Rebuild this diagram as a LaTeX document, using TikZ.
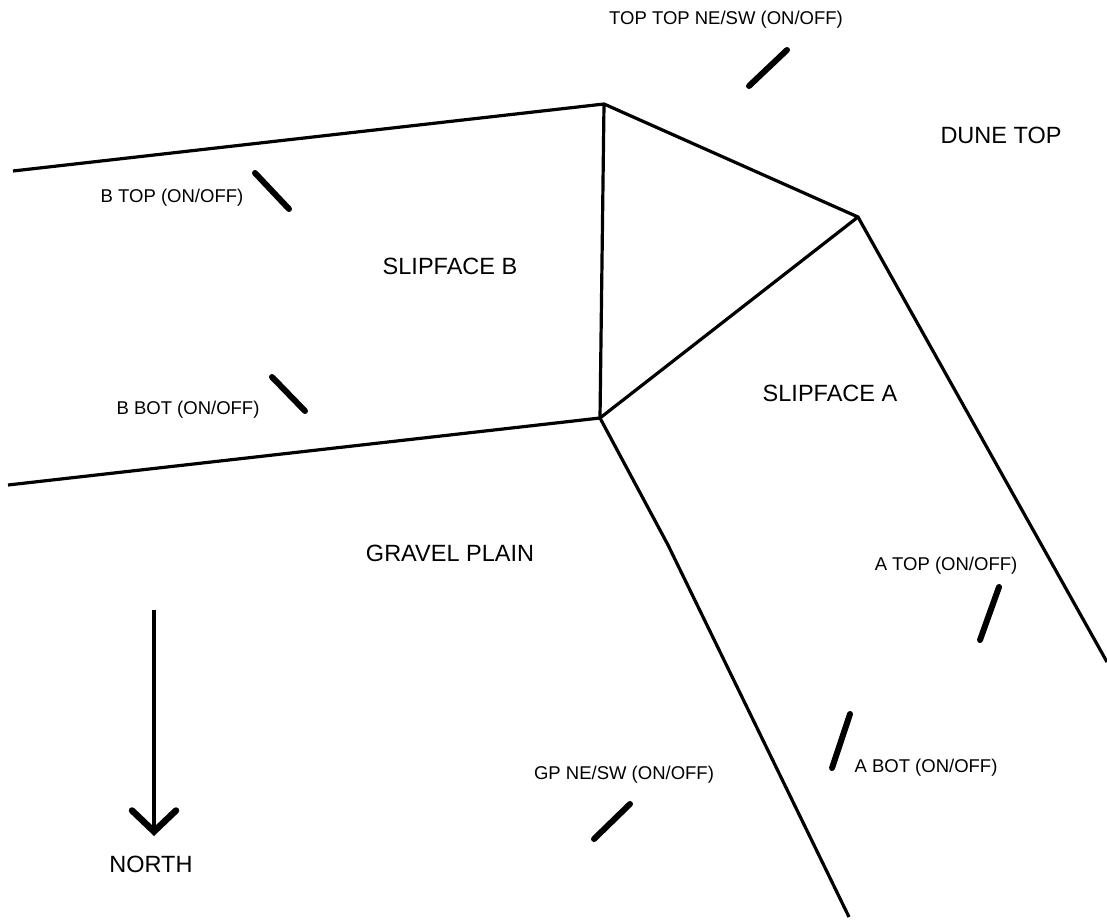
\documentclass[tikz,border=0pt]{standalone}
\usepackage{fontspec}
\setmainfont{Liberation Sans}
\usetikzlibrary{arrows.meta}
\tikzset{
  edge/.style={line width=3.2pt,line join=round},
  sensor/.style={line width=6pt,line cap=round},
  zone/.style={inner sep=0pt,font=\fontsize{23.5}{26}\selectfont},
  tag/.style={inner sep=0pt,font=\fontsize{18.5}{20}\selectfont}
}
\begin{document}
\begin{tikzpicture}[x=1pt,y=-1pt]
    \useasboundingbox (0,0) rectangle (1107,920);
    \coordinate (wt) at (13,171);
    \coordinate (wb) at (8,485);
    \coordinate (crest) at (604,104);
    \coordinate (brink) at (858,217);
    \coordinate (toe) at (600,418);
    \coordinate (bend) at (668,545);
    \coordinate (se) at (849,917);
    \coordinate (ee) at (1107,662);
    \draw[edge] (wt) -- (crest) -- (brink) -- (toe) -- (crest);
    \draw[edge] (wb) -- (toe) -- (bend) -- (se);
    \draw[edge] (brink) -- (ee);
    \node[zone] (dune) at (1001,135) {DUNE TOP};
    \node[zone] (slb) at (450,266) {SLIPFACE B};
    \node[zone] (sla) at (830,393) {SLIPFACE A};
    \node[zone] (gravel) at (450,553) {GRAVEL PLAIN};
    \node[tag] (tt) at (726,20) {TOP TOP NE/SW (ON/OFF)};
    \node[tag] (btop) at (172,198) {B TOP (ON/OFF)};
    \node[tag] (bbot) at (188,410) {B BOT (ON/OFF)};
    \node[tag] (atop) at (946,566) {A TOP (ON/OFF)};
    \node[tag] (abot) at (926,768) {A BOT (ON/OFF)};
    \node[tag] (gp) at (624,775) {GP NE/SW (ON/OFF)};
    \draw[sensor] (787,50) -- (749,86);
    \draw[sensor] (255,173) -- (289,209);
    \draw[sensor] (272,377) -- (305,411);
    \draw[sensor] (999,587) -- (980,640);
    \draw[sensor] (850,714) -- (832,768);
    \draw[sensor] (630,804) -- (594,839);
    \node[zone] (north) at (151,864) {NORTH};
    \coordinate (tail) at (154,610);
    \coordinate (tip) at (154,836);
    \draw[line width=4.5pt,-{Straight Barb[length=21pt,width=44pt,line width=6.5pt,line cap=round]}] (tail) -- (tip);
\end{tikzpicture}
\end{document}
